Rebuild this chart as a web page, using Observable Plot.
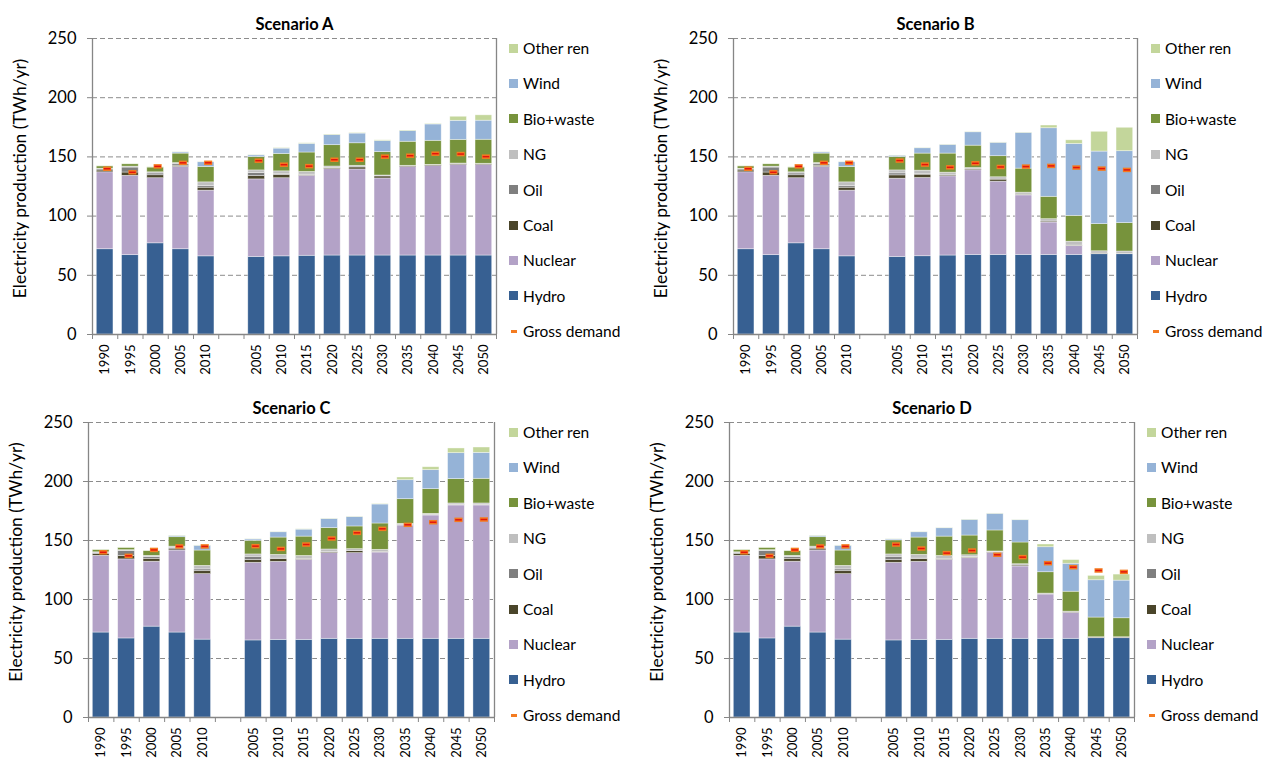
<!DOCTYPE html>
<html>
<head>
<meta charset="utf-8">
<script src="https://cdn.jsdelivr.net/npm/d3@7"></script>
<script src="https://cdn.jsdelivr.net/npm/@observablehq/plot@0.6"></script>
<style>
  body { margin: 0; background: #fff; font-family: Lato, "Open Sans", sans-serif; }
  #chart { position: relative; width: 1275px; height: 758px; overflow: hidden; background: #fff; }
  .panel { position: absolute; }
  .legend { position: absolute; font-size: 15.5px; color: #000; }
  .legend .row { position: absolute; left: 0; height: 18px; display: flex; align-items: center; white-space: nowrap; }
  .legend .sw { width: 9px; height: 9px; margin-right: 5px; flex: none; }
  .legend .dash { width: 9px; height: 9px; margin-right: 5px; flex: none; position: relative; }
  .legend .dash::after { content: ""; position: absolute; left: 2px; top: 3.5px; width: 6px; height: 2.5px; background: #F47B20; }
</style>
</head>
<body>
<div id="chart"></div>
<script>
// Categories
const histYears = ["1990", "1995", "2000", "2005", "2010"];
const scenYears = ["2005", "2010", "2015", "2020", "2025", "2030", "2035", "2040", "2045", "2050"];
const sources = ["Hydro", "Nuclear", "Coal", "Oil", "NG", "Bio+waste", "Wind", "Other ren"];
const sourceColors = ["#376092", "#B3A2C7", "#4A452A", "#7F7F7F", "#BFBFBF", "#77933C", "#95B3D7", "#C3D69B"];
const yTicks = [0, 50, 100, 150, 200, 250];
const yLabel = "Electricity production (TWh/yr)";
const demandLabel = "Gross demand";

// Historical production (TWh/yr), shared by every scenario
const histHydro   = [72, 67, 77, 72, 66];
const histNuclear = [65, 67, 55, 69.5, 55.5];
const histCoal    = [1.5, 2.8, 2.5, 1, 2.5];
const histOil     = [1, 4.2, 1.5, 1.3, 1.5];
const histNG      = [0.5, 0.8, 1, 1, 3];
const histBio     = [2, 2, 4, 8, 13];
const histWind    = [0, 0, 0, 1, 4];
const histOther   = [0.3, 0.3, 0.3, 0.3, 0.3];
const histDemand  = [140, 137, 142, 145, 145];

// Scenario A
const aHydro   = [65.5, 66, 66.5, 66.7, 66.7, 66.7, 66.7, 66.7, 66.7, 66.7];
const aNuclear = [65.5, 66, 67.5, 73, 72.7, 65.1, 74.7, 75.5, 76.4, 76.4];
const aCoal    = [2.8, 2.8, 0.7, 0.8, 1.7, 1.7, 0.8, 0.8, 1, 0.8];
const aOil     = [2.5, 0.5, 0.3, 0, 0, 0, 0, 0, 0, 0];
const aNG      = [2.3, 2.5, 2.3, 1.4, 1.4, 0.8, 0.3, 0.3, 0.3, 0.3];
const aBio     = [11.3, 14.7, 16.4, 18, 19, 19.8, 20.3, 20.3, 20, 20.3];
const aWind    = [1.4, 4.5, 7.3, 8.5, 8.2, 9.3, 9, 13.8, 16.1, 16.1];
const aOther   = [0.3, 0.5, 0.5, 0.5, 0.5, 0.6, 0.5, 0.5, 3.4, 4.5];
const aDemand  = [146.8, 143.4, 142.2, 147.6, 147.6, 150.2, 151, 152.7, 152.4, 150.2];

// Scenario B
const bHydro   = [65.5, 66.1, 66.7, 67.2, 67.2, 67.2, 67.2, 67.2, 67.8, 67.8];
const bNuclear = [66.1, 66.1, 66.9, 71.5, 61.9, 50.3, 27.4, 7.4, 0, 0];
const bCoal    = [2.8, 2.8, 0.8, 0.8, 1.7, 0.6, 0.8, 0.5, 0.5, 0.3];
const bOil     = [1.7, 0.3, 0, 0, 0, 0, 0, 0, 0, 0];
const bNG      = [2.5, 3.1, 2.3, 1.1, 2, 1.7, 2, 3.3, 2, 2];
const bBio     = [11.3, 14.4, 16.1, 18.9, 17.8, 20.3, 18.9, 21.8, 22.9, 24];
const bWind    = [1.1, 4.5, 7.3, 11.3, 11.3, 30.2, 57.9, 60.7, 61.3, 60.7];
const bOther   = [0.2, 0.3, 0.3, 0.3, 0.3, 0.3, 2.3, 3.1, 16.7, 19.8];
const bDemand  = [146.9, 143.5, 141.2, 144.6, 141.5, 141.8, 142.4, 141, 140.1, 139];

// Scenario C
const cHydro   = [65.3, 65.8, 65.8, 66.7, 66.7, 66.7, 66.7, 66.7, 66.7, 66.7];
const cNuclear = [65.8, 66.1, 67.8, 72.6, 72.6, 73.1, 96, 104.5, 113, 113];
const cCoal    = [2.3, 2.5, 0.8, 0.8, 1.7, 0.6, 0.3, 0.3, 0.3, 0.3];
const cOil     = [2.8, 0.3, 0, 0, 0, 0, 0, 0, 0, 0];
const cNG      = [2, 3.1, 2.5, 2.3, 1.7, 1.7, 1.1, 1.1, 1.4, 1.4];
const cBio     = [11.6, 14.7, 16.4, 18.1, 19.2, 22.3, 20.9, 20.9, 20.6, 20.9];
const cWind    = [1.1, 4.5, 5.9, 7.6, 7.9, 16.1, 16.1, 16.1, 22, 22];
const cOther   = [0.2, 0.3, 0.3, 0.3, 0.3, 0.3, 2.3, 2.5, 4, 4.5];
const cDemand  = [145.2, 142.9, 146.6, 151.7, 156.5, 159.9, 163.3, 165.5, 167.5, 167.8];

// Scenario D
const dHydro   = [65.3, 65.8, 65.8, 66.7, 66.7, 66.7, 66.7, 66.7, 67.2, 67.2];
const dNuclear = [65.8, 66.1, 67.8, 68.3, 72.8, 61.3, 37.5, 22, 0, 0];
const dCoal    = [2.3, 2.5, 0.8, 0.6, 0.6, 0.8, 0.6, 0.8, 0.6, 0.6];
const dOil     = [2.8, 0.3, 0, 0.5, 0, 0, 0, 0, 0, 0];
const dNG      = [2, 3.1, 2.5, 1.4, 0.6, 1.1, 0.2, 0.2, 0.2, 0.2];
const dBio     = [11.9, 14.7, 16.4, 16.7, 17.8, 18.4, 18.1, 16.9, 16.7, 16.1];
const dWind    = [0.8, 4.5, 7.1, 13.3, 14.1, 18.9, 21.2, 23.7, 31.6, 31.9];
const dOther   = [0.2, 0.3, 0.3, 0.3, 0.3, 0.3, 2.3, 3.1, 3.7, 5.1];
const dDemand  = [146.6, 143.2, 139.3, 141.5, 137.9, 135.9, 130.8, 127.4, 124.6, 123.4];

const histSeries = [histHydro, histNuclear, histCoal, histOil, histNG, histBio, histWind, histOther];

// Slot layout on the x axis: five historical years, an empty slot, ten scenario years
const slotLabels = [...histYears, "", ...scenYears];
const histSlots = histYears.map((_, i) => i);
const scenSlots = scenYears.map((_, i) => i + histYears.length + 1);
const nSlots = slotLabels.length;

const scenarios = [
  {title: "Scenario A", series: [aHydro, aNuclear, aCoal, aOil, aNG, aBio, aWind, aOther], demand: aDemand,
   left: 0, top: 0, ml: 92, mr: 134, mb: 45, legendLeft: 509, legendTop: 39},
  {title: "Scenario B", series: [bHydro, bNuclear, bCoal, bOil, bNG, bBio, bWind, bOther], demand: bDemand,
   left: 640, top: 0, ml: 93, mr: 133, mb: 45, legendLeft: 1151, legendTop: 39},
  {title: "Scenario C", series: [cHydro, cNuclear, cCoal, cOil, cNG, cBio, cWind, cOther], demand: cDemand,
   left: 0, top: 384, ml: 88, mr: 136, mb: 46, legendLeft: 509, legendTop: 423},
  {title: "Scenario D", series: [dHydro, dNuclear, dCoal, dOil, dNG, dBio, dWind, dOther], demand: dDemand,
   left: 640, top: 384, ml: 89, mr: 136, mb: 46, legendLeft: 1147, legendTop: 423}
];

// Stack each slot's sources bottom-up
function stackRows(slots, series) {
  const rows = [];
  slots.forEach((slot, i) => {
    let acc = 0;
    sources.forEach((src, k) => {
      const v = series[k][i];
      rows.push({slot, source: src, y1: acc, y2: acc + v});
      acc += v;
    });
  });
  return rows;
}

const chart = document.getElementById("chart");
const axisGray = "#868686";

for (const sc of scenarios) {
  const bars = [...stackRows(histSlots, histSeries), ...stackRows(scenSlots, sc.series)];
  const demandRows = [
    ...histSlots.map((slot, i) => ({slot, v: histDemand[i]})),
    ...scenSlots.map((slot, i) => ({slot, v: sc.demand[i]}))
  ];

  const plot = Plot.plot({
    width: 630,
    height: 379,
    marginLeft: sc.ml,
    marginRight: sc.mr,
    marginTop: 38,
    marginBottom: sc.mb,
    style: {fontFamily: "Lato, 'Open Sans', sans-serif", background: "transparent", color: "#000", overflow: "visible"},
    x: {domain: [0, nSlots], axis: null},
    y: {domain: [0, 250], axis: null},
    color: {domain: sources, range: sourceColors},
    marks: [
      Plot.ruleY(yTicks.filter(t => t > 0), {stroke: "#8c8c8c", strokeWidth: 1, strokeDasharray: "5,3"}),
      Plot.rect(bars, {
        x1: d => d.slot + 0.17, x2: d => d.slot + 0.83, y1: "y1", y2: "y2",
        fill: "source", stroke: "#ffffff", strokeOpacity: 0.55, strokeWidth: 0.7
      }),
      Plot.ruleX([0, nSlots], {stroke: axisGray, strokeWidth: 1.3}),
      Plot.ruleY([0], {stroke: axisGray, strokeWidth: 1.3}),
      Plot.axisY({ticks: yTicks, tickSize: 5, tickPadding: 11, stroke: axisGray, fontSize: 16.5, label: null}),
      Plot.axisX({ticks: d3.range(0, nSlots + 1), tickFormat: () => "", tickSize: 5, stroke: axisGray, label: null}),
      Plot.axisX({
        ticks: d3.range(nSlots).map(i => i + 0.5), tickFormat: t => slotLabels[Math.floor(t)],
        tickSize: 0, tickRotate: -90, tickPadding: 10, fontSize: 13, label: null
      }),
      Plot.ruleY(demandRows, {x1: d => d.slot + 0.44, x2: d => d.slot + 0.76, y: "v", stroke: "#F47B20", strokeWidth: 4.5}),
      Plot.ruleY(demandRows, {x1: d => d.slot + 0.47, x2: d => d.slot + 0.73, y: "v", stroke: "#E3140E", strokeWidth: 1.5}),
      Plot.text([sc.title], {frameAnchor: "top", dy: -20, fontWeight: "bold", fontSize: 16.5}),
      Plot.text([yLabel], {frameAnchor: "left", textAnchor: "middle", rotate: -90, dx: -72, dy: -8, fontSize: 17.5})
    ]
  });

  const wrap = document.createElement("div");
  wrap.className = "panel";
  wrap.style.left = sc.left + "px";
  wrap.style.top = sc.top + "px";
  wrap.appendChild(plot);
  chart.appendChild(wrap);

  // Legend, top entry first
  const legend = document.createElement("div");
  legend.className = "legend";
  legend.style.left = sc.legendLeft + "px";
  legend.style.top = sc.legendTop + "px";
  const entries = sources.map((s, i) => ({name: s, color: sourceColors[i]})).reverse();
  entries.forEach((e, i) => {
    const row = document.createElement("div");
    row.className = "row";
    row.style.top = (i * 35.4) + "px";
    row.innerHTML = `<span class="sw" style="background:${e.color}"></span><span>${e.name}</span>`;
    legend.appendChild(row);
  });
  const drow = document.createElement("div");
  drow.className = "row";
  drow.style.top = (entries.length * 35.4) + "px";
  drow.innerHTML = `<span class="dash"></span><span>${demandLabel}</span>`;
  legend.appendChild(drow);
  chart.appendChild(legend);
}
</script>
</body>
</html>
